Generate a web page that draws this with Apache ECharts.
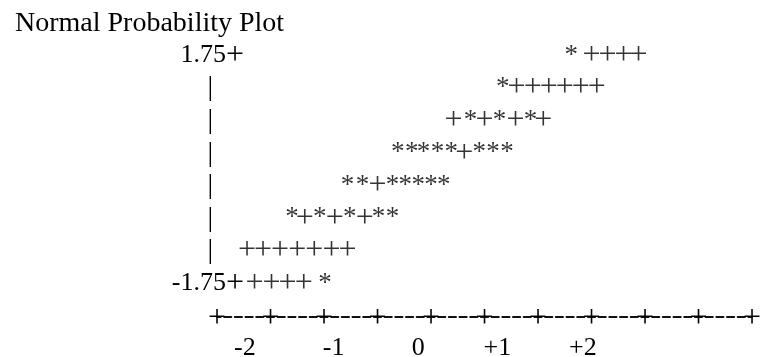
<!DOCTYPE html>
<html>
<head>
<meta charset="utf-8">
<title>Normal Probability Plot</title>
<script src="https://cdn.jsdelivr.net/npm/echarts@6/dist/echarts.min.js"></script>
<style>
  html, body { margin: 0; padding: 0; background: #fff; }
  #chart { width: 760px; height: 357px; }
</style>
</head>
<body>
<div id="chart"></div>
<script>
// Line-printer style normal probability plot.
// Horizontal positions are in print columns of the plot area (tick '+' every 5 columns),
// vertical positions are the printed row levels.
const chartTitle = 'Normal Probability Plot';

const rowLevels = [1.75, 1.25, 0.75, 0.25, -0.25, -0.75, -1.25, -1.75];

// '*' = observed values, '+' = reference normal line, per printed row
const starCols = [
  [33.1],
  [26.7],
  [23.7, 26.4, 29.3],
  [16.9, 18.2, 19.3, 20.6, 21.9, 24.5, 25.8, 27.1],
  [12.2, 13.6, 16.4, 17.6, 18.8, 20.0, 21.2],
  [7.0, 9.6, 12.4, 15.1, 16.4],
  [],
  [10.1]
];
const plusCols = [
  [35.0, 36.5, 38.0, 39.4],
  [28.0, 29.5, 31.0, 32.5, 34.0, 35.5],
  [22.1, 25.0, 27.9, 30.5],
  [23.1],
  [15.0],
  [8.2, 11.0, 13.8],
  [2.8, 4.3, 5.9, 7.5, 9.1, 10.7, 12.2],
  [3.5, 5.1, 6.6, 8.1]
];

// vertical axis labels (each followed by its '+' tick mark)
const yTickValues = [1.75, -1.75];
const yTickTexts = ['1.75', '-1.75'];

// horizontal axis: normal quantile labels and the print columns they sit on
const xTickCols = [2.6, 10.9, 18.8, 26.2, 34.2];
const xTickTexts = ['-2', '-1', '0', '+1', '+2'];

const FONT = '"Liberation Serif", "Times New Roman", serif';
const INK = '#000';

function toPoints(colsByRow) {
  const pts = [];
  colsByRow.forEach((cols, i) => {
    cols.forEach(c => pts.push([c, rowLevels[i]]));
  });
  return pts;
}

const chart = echarts.init(document.getElementById('chart'), null, { renderer: 'canvas' });

const glyphLabel = (ch, size) => ({
  show: true,
  position: 'inside',
  formatter: ch,
  fontFamily: FONT,
  fontSize: size,
  color: INK
});

chart.setOption({
  animation: false,
  backgroundColor: '#fff',
  title: {
    text: chartTitle,
    left: 10,
    top: 5,
    textStyle: { fontFamily: FONT, fontSize: 28, fontWeight: 'normal', color: INK }
  },
  grid: {
    left: 217,
    right: 8,
    top: 22.9,
    bottom: 40.9,
    containLabel: false,
    outerBoundsMode: 'none'
  },
  xAxis: [
    {
      type: 'value',
      min: 0,
      max: 50,
      interval: 5,
      offset: 1,
      axisLine: {
        show: true,
        onZero: false,
        lineStyle: { color: '#111', width: 2, type: [7.2, 3.5], dashOffset: 3.6 }
      },
      axisTick: { show: false },
      splitLine: { show: false },
      axisLabel: {
        show: true,
        formatter: () => '+',
        margin: 1,
        verticalAlign: 'middle',
        fontFamily: FONT,
        fontSize: 32,
        color: INK,
        showMinLabel: true,
        showMaxLabel: true
      }
    },
    {
      type: 'value',
      min: 0,
      max: 50,
      position: 'bottom',
      axisLine: { show: false, onZero: false },
      axisTick: { show: false },
      splitLine: { show: false },
      axisLabel: {
        show: true,
        customValues: xTickCols,
        formatter: (v) => {
          const i = xTickCols.findIndex(c => Math.abs(c - v) < 1e-6);
          return i >= 0 ? xTickTexts[i] : '';
        },
        margin: 32,
        verticalAlign: 'middle',
        fontFamily: FONT,
        fontSize: 26,
        color: INK
      }
    }
  ],
  yAxis: {
    type: 'value',
    min: -2.25,
    max: 2.25,
    interval: 0.5,
    axisLine: { show: false, onZero: false },
    axisTick: { show: false },
    splitLine: { show: false },
    axisLabel: {
      show: true,
      margin: -27,
      fontFamily: FONT,
      fontSize: 26,
      color: INK,
      formatter: (v) => {
        const i = yTickValues.findIndex(t => Math.abs(t - v) < 1e-6);
        if (i >= 0) return '{num|' + yTickTexts[i] + '}{tick|+}';
        if (Math.abs(v) < 1.5) return '{bar||}';
        return '';
      },
      rich: {
        num: {
          fontFamily: FONT,
          fontSize: 26,
          color: INK
        },
        tick: {
          fontFamily: FONT,
          fontSize: 32,
          color: INK
        },
        bar: {
          fontFamily: FONT,
          fontSize: 28,
          color: INK,
          padding: [0, 31, 0, 0]
        }
      }
    }
  },
  series: [
    {
      name: '+',
      type: 'scatter',
      xAxisIndex: 0,
      data: toPoints(plusCols),
      symbolSize: 2,
      itemStyle: { color: 'rgba(0,0,0,0)' },
      label: glyphLabel('+', 32),
      emphasis: { disabled: true },
      silent: true,
      z: 2
    },
    {
      name: '*',
      type: 'scatter',
      xAxisIndex: 0,
      data: toPoints(starCols),
      symbolSize: 2,
      itemStyle: { color: 'rgba(0,0,0,0)' },
      label: glyphLabel('*', 27),
      emphasis: { disabled: true },
      silent: true,
      z: 3
    }
  ]
});
</script>
</body>
</html>
